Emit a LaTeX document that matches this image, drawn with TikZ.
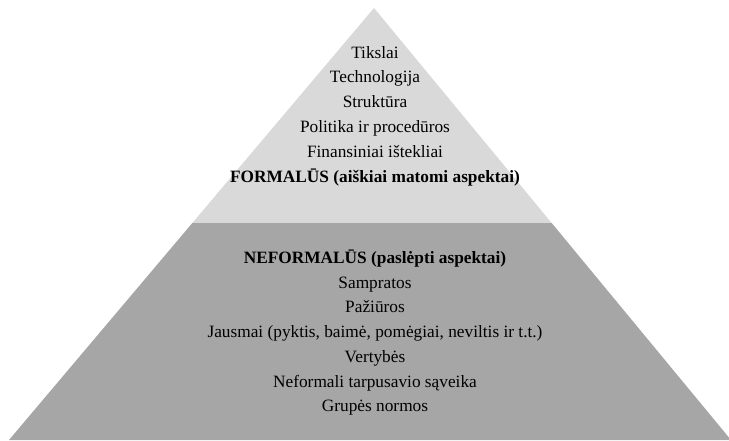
\documentclass[tikz,border=0pt]{standalone}
\usepackage{fontspec}
\usetikzlibrary{calc}
\setmainfont{Liberation Serif}
\newfontfamily\labelface{Liberation Serif}
\definecolor{toplayer}{HTML}{D9D9D9}
\definecolor{baselayer}{HTML}{A6A6A6}
\tikzset{
  lbl/.style={anchor=base, inner sep=0pt, font=\labelface\fontsize{17.3}{20}\selectfont},
  lblbold/.style={lbl, font=\labelface\fontsize{17.3}{20}\selectfont\bfseries}
}
\begin{document}
\begin{tikzpicture}[x=1pt,y=-1pt]
  \useasboundingbox (0,0) rectangle (729,440);
  \clip (0,0) rectangle (729,440);
  % pyramid corners
  \coordinate (apex) at (374,8);
  \coordinate (bl) at (9,440);
  \coordinate (br) at (731,440);
  % split line between the two layers
  \coordinate (ml) at ($(apex)!{(223-8)/(440-8)}!(bl)$);
  \coordinate (mr) at ($(apex)!{(223-8)/(440-8)}!(br)$);
  \fill[toplayer] (apex) -- (mr) -- (ml) -- cycle;
  \fill[baselayer] (ml) -- (mr) -- (br) -- (bl) -- cycle;
  % upper layer
  \node[lbl] (t1) at (375,58) {Tikslai};
  \node[lbl] (t2) at (375,82.8) {Technologija};
  \node[lbl] (t3) at (375,107.6) {Struktūra};
  \node[lbl] (t4) at (375,132.4) {Politika ir procedūros};
  \node[lbl] (t5) at (375,157.2) {Finansiniai ištekliai};
  \node[lblbold] (t6) at (375,182) {FORMALŪS (aiškiai matomi aspektai)};
  % lower layer
  \node[lblbold] (b1) at (375,263.3) {NEFORMALŪS (paslėpti aspektai)};
  \node[lbl] (b2) at (375,288) {Sampratos};
  \node[lbl] (b3) at (375,312.8) {Pažiūros};
  \node[lbl] (b4) at (375,337.5) {Jausmai (pyktis, baimė, pomėgiai, neviltis ir t.t.)};
  \node[lbl] (b5) at (375,362.2) {Vertybės};
  \node[lbl] (b6) at (375,387) {Neformali tarpusavio sąveika};
  \node[lbl] (b7) at (375,411.7) {Grupės normos};
\end{tikzpicture}
\end{document}
